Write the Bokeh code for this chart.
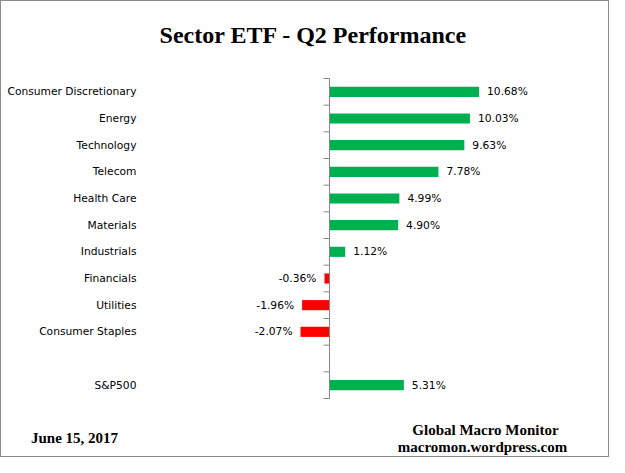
from bokeh.plotting import figure
from bokeh.models import Range1d, FactorRange, Label, ColumnDataSource
from bokeh.core.properties import value
from bokeh.embed import file_html
from bokeh.resources import INLINE

# ---- data (top to bottom) ----
sectors = ["Consumer Discretionary", "Energy", "Technology", "Telecom", "Health Care",
           "Materials", "Industrials", "Financials", "Utilities", "Consumer Staples", " ", "S&P500"]
returns = [10.68, 10.03, 9.63, 7.78, 4.99, 4.90, 1.12, -0.36, -1.96, -2.07, None, 5.31]
title_text = "Sector ETF - Q2 Performance"
date_text = "June 15, 2017"
source_line1 = "Global Macro Monitor"
source_line2 = "macromon.wordpress.com"

GREEN = "#00B050"
RED = "#FF0000"
AXIS = "#868686"

cats = [s for s, v in zip(sectors, returns) if v is not None]
vals = [v for v in returns if v is not None]
pos_cats = [c for c, v in zip(cats, vals) if v >= 0]
pos_vals = [v for v in vals if v >= 0]
neg_cats = [c for c, v in zip(cats, vals) if v < 0]
neg_vals = [v for v in vals if v < 0]

p = figure(width=609, height=457, output_backend="svg", toolbar_location=None,
           x_range=Range1d(-23.43, 20.07),
           y_range=FactorRange(factors=list(reversed(sectors)), range_padding=2.25,
                               range_padding_units="absolute", factor_padding=0),
           min_border_left=0, min_border_right=0, min_border_top=17, min_border_bottom=0,
           outline_line_color=None, background_fill_color="white", border_fill_color="white")
p.styles = {"border": "1px solid #8c8c8c"}

p.axis.visible = False
p.grid.visible = False

src_pos = ColumnDataSource(dict(y=pos_cats, x=pos_vals, t=[f"{v:.2f}%" for v in pos_vals]))
src_neg = ColumnDataSource(dict(y=neg_cats, x=neg_vals, t=[f"{v:.2f}%" for v in neg_vals]))

p.hbar(y="y", left=0, right="x", height=0.38, source=src_pos, fill_color=GREEN, line_color=None)
p.hbar(y="y", left=0, right="x", height=0.38, source=src_neg, fill_color=RED, line_color=None)

# category axis at zero, with tick marks between categories
n = len(sectors)
p.segment(x0=[0], x1=[0], y0=[0], y1=[n], line_color=AXIS, line_width=1)
bounds = list(range(n + 1))
p.segment(x0=[-0.43] * len(bounds), x1=[0] * len(bounds), y0=bounds, y1=bounds,
          line_color=AXIS, line_width=1)

# category labels
p.text(x=[-13.79] * n, y=sectors, text=sectors, text_align="right", text_baseline="middle",
       text_font=value("DejaVu Sans"), text_font_size="10.7px", text_color="#000000")

# value labels
p.text(x="x", y="y", text="t", source=src_pos, x_offset=8, text_align="left",
       text_baseline="middle", text_font=value("DejaVu Sans"), text_font_size="10.7px",
       text_color="#000000")
p.text(x="x", y="y", text="t", source=src_neg, x_offset=-8, text_align="right",
       text_baseline="middle", text_font=value("DejaVu Sans"), text_font_size="10.7px",
       text_color="#000000")

H = 457
def screen_label(x, y_from_top, text, size):
    return Label(x=x, y=H - y_from_top, x_units="screen", y_units="screen", text=text,
                 text_align="center", text_baseline="alphabetic",
                 text_font="Liberation Serif", text_font_style="bold",
                 text_font_size=size, text_color="#000000")

p.add_layout(screen_label(312, 33, title_text, "24px"))
p.add_layout(screen_label(73, 436, date_text, "15px"))
p.add_layout(screen_label(484, 428, source_line1, "15px"))
p.add_layout(screen_label(481, 445, source_line2, "15px"))

open("out.html", "w").write(file_html(p, INLINE))
